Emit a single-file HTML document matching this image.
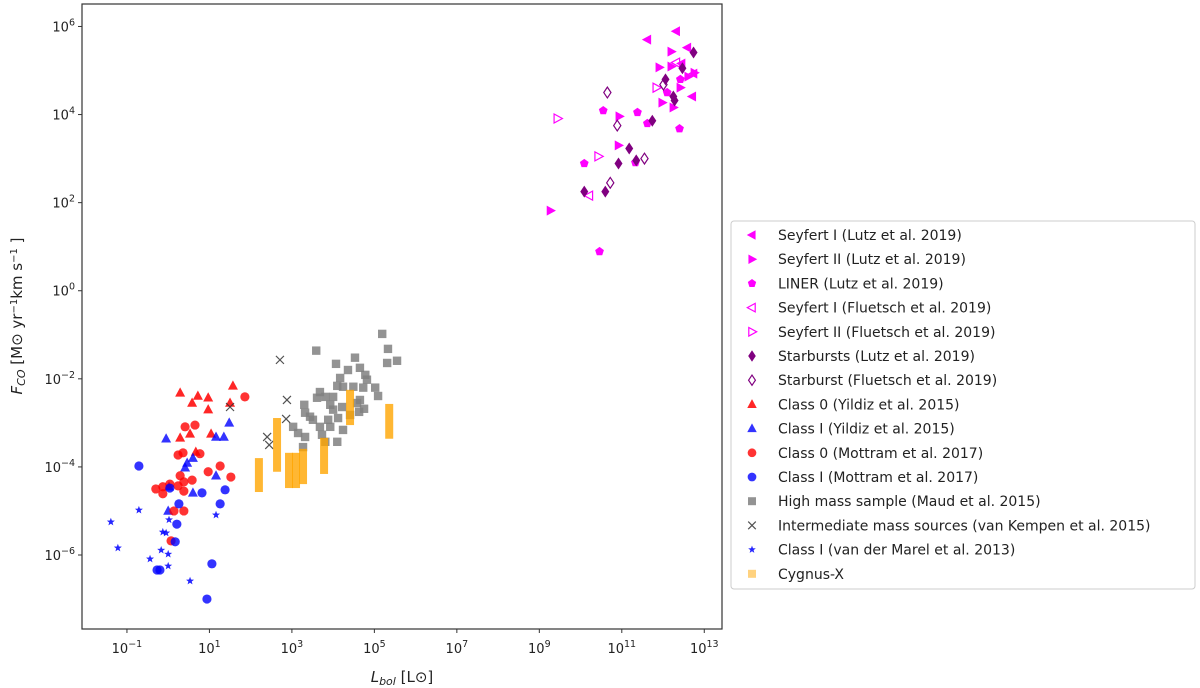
<!DOCTYPE html>
<html><head><meta charset="utf-8">
<style>
html,body{margin:0;padding:0;background:#fff;}
svg{display:block;font-family:"DejaVu Sans","Liberation Sans",sans-serif;}
</style></head>
<body>
<svg id="chart" width="1200" height="688" viewBox="0 0 1200 688"></svg>
<script>
// values are log10(L_bol) and log10(F_CO)
const seyfert1LutzX=[11.62,12.32,12.59,12.71,12.74,12.45];
const seyfert1LutzY=[5.7,5.89,5.52,4.41,4.93,5.16];
const seyfert2LutzX=[12.2,11.91,12.2,10.94,10.92,9.27,11.98,12.25,12.76,12.61,12.42];
const seyfert2LutzY=[5.43,5.07,5.09,3.96,3.3,1.82,4.27,4.16,4.95,4.86,4.61];
const linerX=[10.55,11.38,11.62,12.4,12.42,10.09,10.46,12.1,11.33];
const linerY=[4.09,4.05,3.8,3.68,4.8,2.89,0.89,4.5,2.91];
const seyfert1FlX=[12.32,10.21];
const seyfert1FlY=[5.18,2.16];
const seyfert2FlX=[9.44,10.43,11.84];
const seyfert2FlY=[3.91,3.05,4.61];
const starLutzX=[12.74,12.47,12.06,12.25,12.28,11.74,11.18,10.92,11.35,10.09,10.6];
const starLutzY=[5.41,5.05,4.8,4.41,4.32,3.86,3.23,2.89,2.96,2.25,2.25];
const starFlX=[10.65,10.89,11.55,10.72,12.01];
const starFlY=[4.5,3.75,3.0,2.45,4.68];
const class0YX=[0.29,0.72,0.97,0.58,0.97,1.57,1.5,0.29,0.53,1.04,0.67];
const class0YY=[-2.32,-2.39,-2.43,-2.55,-2.7,-2.16,-2.55,-3.34,-3.25,-3.25,-3.66];
const class1YX=[-0.05,1.48,1.16,1.35,0.6,0.46,0.41,1.16,0.6,0.02,0.0];
const class1YY=[-3.36,-3.0,-3.32,-3.32,-3.8,-3.91,-4.02,-4.2,-4.59,-4.45,-5.0];
const class0MX=[1.86,0.41,0.65,0.24,0.36,0.77,1.26,0.97,1.52,0.29,0.38,0.58,-0.3,-0.13,0.04,0.24,0.38,-0.13,0.14,0.38,0.07];
const class0MY=[-2.41,-3.09,-3.05,-3.73,-3.68,-3.7,-3.98,-4.11,-4.23,-4.2,-4.34,-4.3,-4.5,-4.45,-4.39,-4.43,-4.55,-4.61,-5.0,-5.0,-5.68];
const class1MX=[-0.71,0.04,0.82,1.38,0.26,1.26,0.21,0.17,1.06,-0.27,-0.2,0.94];
const class1MY=[-3.98,-4.48,-4.59,-4.52,-4.84,-4.84,-5.3,-5.7,-6.2,-6.34,-6.34,-7.0];
const highMassX=[5.19,5.33,5.31,5.55,3.59,4.07,4.53,4.65,4.36,4.78,4.82,4.17,4.1,3.68,3.61,3.81,4.0,4.24,4.49,4.73,5.02,5.09,4.65,3.93,4.22,4.58,4.75,4.63,3.3,3.32,3.51,3.44,3.88,4.12,4.41,3.68,3.93,4.24,3.03,3.15,3.32,3.73,3.81,4.1,3.27,4.0];
const highMassY=[-0.98,-1.32,-1.64,-1.59,-1.36,-1.66,-1.52,-1.75,-1.8,-1.91,-2.02,-1.98,-2.16,-2.3,-2.43,-2.41,-2.41,-2.18,-2.18,-2.2,-2.2,-2.39,-2.48,-2.59,-2.64,-2.55,-2.68,-2.75,-2.59,-2.77,-2.93,-2.86,-2.93,-2.89,-2.82,-3.09,-3.09,-3.16,-3.09,-3.23,-3.32,-3.27,-3.43,-3.43,-3.55,-2.7];
const interX=[2.71,2.88,2.86,2.4,2.45,1.5];
const interY=[-1.57,-2.48,-2.91,-3.32,-3.5,-2.64];
const marelX=[-0.71,-1.39,-1.22,0.02,-0.13,-0.05,1.16,-0.17,0.0,-0.44,0.0,0.53];
const marelY=[-4.98,-5.25,-5.84,-5.2,-5.48,-5.5,-5.09,-5.89,-5.98,-6.09,-6.25,-6.59];
const cygnusX=[2.2,2.64,2.93,3.1,3.27,3.78,4.41,5.36];
const cygnusTop=[-3.8,-2.89,-3.68,-3.68,-3.59,-3.34,-2.25,-2.57];
const cygnusBottom=[-4.57,-4.11,-4.48,-4.48,-4.39,-4.16,-3.05,-3.36];
const xTicks=[-1,1,3,5,7,9,11,13];
const yTicks=[-6,-4,-2,0,2,4,6];

const NS="http://www.w3.org/2000/svg";
const svg=document.getElementById('chart');
const L=82,R=722,T=4,B=629;
const xMin=-2.09,xMax=13.43,yMin=-7.68,yMax=6.51;
function sx(v){return L+(v-xMin)/(xMax-xMin)*(R-L);}
function sy(v){return B-(v-yMin)/(yMax-yMin)*(B-T);}
function mk(tag,attrs,parent){const e=document.createElementNS(NS,tag);for(const k in attrs)e.setAttribute(k,attrs[k]);(parent||svg).appendChild(e);return e;}

const plot=mk('g',{});



function marker(g,type,x,y,s,style){
  let e;
  const r=s;
  if(type==='circle'){e=mk('circle',{cx:x,cy:y,r:r},g);}
  else if(type==='square'){e=mk('rect',{x:x-r,y:y-r,width:2*r,height:2*r},g);}
  else if(type==='tri-up'){e=mk('polygon',{points:`${x},${y-r*1.1} ${x-r},${y+r*0.75} ${x+r},${y+r*0.75}`},g);}
  else if(type==='tri-left'){e=mk('polygon',{points:`${x-r*1.1},${y} ${x+r*0.75},${y-r} ${x+r*0.75},${y+r}`},g);}
  else if(type==='tri-right'){e=mk('polygon',{points:`${x+r*1.1},${y} ${x-r*0.75},${y-r} ${x-r*0.75},${y+r}`},g);}
  else if(type==='diamond'){e=mk('polygon',{points:`${x},${y-r*1.2} ${x+r*0.8},${y} ${x},${y+r*1.2} ${x-r*0.8},${y}`},g);}
  else if(type==='pentagon'){let p=[];for(let i=0;i<5;i++){const a=-Math.PI/2+i*2*Math.PI/5;p.push((x+r*Math.cos(a)).toFixed(2)+','+(y+r*Math.sin(a)).toFixed(2));}e=mk('polygon',{points:p.join(' ')},g);}
  else if(type==='star'){let p=[];for(let i=0;i<10;i++){const a=-Math.PI/2+i*Math.PI/5;const rr=i%2?r*0.42:r;p.push((x+rr*Math.cos(a)).toFixed(2)+','+(y+rr*Math.sin(a)).toFixed(2));}e=mk('polygon',{points:p.join(' ')},g);}
  else if(type==='x'){e=mk('path',{d:`M${x-r},${y-r}L${x+r},${y+r}M${x-r},${y+r}L${x+r},${y-r}`,fill:'none'},g);}
  else if(type==='bar'){e=mk('rect',{x:x-4,y:y-4,width:8,height:8},g);}
  for(const k in style)e.setAttribute(k,style[k]);
  return e;
}

const series=[
 {name:'seyfert-i-lutz',label:'Seyfert I (Lutz et al. 2019)',type:'tri-left',xs:seyfert1LutzX,ys:seyfert1LutzY,s:5,style:{fill:'#ff00ff'}},
 {name:'seyfert-ii-lutz',label:'Seyfert II (Lutz et al. 2019)',type:'tri-right',xs:seyfert2LutzX,ys:seyfert2LutzY,s:5,style:{fill:'#ff00ff'}},
 {name:'liner-lutz',label:'LINER (Lutz et al. 2019)',type:'pentagon',xs:linerX,ys:linerY,s:4.6,style:{fill:'#ff00ff'}},
 {name:'seyfert-i-fluetsch',label:'Seyfert I (Fluetsch et al. 2019)',type:'tri-left',xs:seyfert1FlX,ys:seyfert1FlY,s:4.5,style:{fill:'none',stroke:'#ff00ff','stroke-width':1.2}},
 {name:'seyfert-ii-fluetsch',label:'Seyfert II (Fluetsch et al. 2019)',type:'tri-right',xs:seyfert2FlX,ys:seyfert2FlY,s:4.5,style:{fill:'none',stroke:'#ff00ff','stroke-width':1.2}},
 {name:'starbursts-lutz',label:'Starbursts (Lutz et al. 2019)',type:'diamond',xs:starLutzX,ys:starLutzY,s:5,style:{fill:'#800080'}},
 {name:'starburst-fluetsch',label:'Starburst (Fluetsch et al. 2019)',type:'diamond',xs:starFlX,ys:starFlY,s:4.5,style:{fill:'none',stroke:'#800080','stroke-width':1.2}},
 {name:'class0-yildiz',label:'Class 0 (Yildiz et al. 2015)',type:'tri-up',xs:class0YX,ys:class0YY,s:5,style:{fill:'#ff0000','fill-opacity':0.85}},
 {name:'class1-yildiz',label:'Class I (Yildiz et al. 2015)',type:'tri-up',xs:class1YX,ys:class1YY,s:5,style:{fill:'#0000ff','fill-opacity':0.8}},
 {name:'class0-mottram',label:'Class 0 (Mottram et al. 2017)',type:'circle',xs:class0MX,ys:class0MY,s:4.6,style:{fill:'#ff0000','fill-opacity':0.8}},
 {name:'class1-mottram',label:'Class I (Mottram et al. 2017)',type:'circle',xs:class1MX,ys:class1MY,s:4.6,style:{fill:'#0000ff','fill-opacity':0.8}},
 {name:'high-mass-maud',label:'High mass sample (Maud et al. 2015)',type:'square',xs:highMassX,ys:highMassY,s:4.2,style:{fill:'#808080','fill-opacity':0.85}},
 {name:'intermediate-mass-kempen',label:'Intermediate mass sources (van Kempen et al. 2015)',type:'x',xs:interX,ys:interY,s:4,style:{stroke:'#333','stroke-width':1.2,'stroke-opacity':0.85}},
 {name:'class1-marel',label:'Class I (van der Marel et al. 2013)',type:'star',xs:marelX,ys:marelY,s:4.2,style:{fill:'#0000ff','fill-opacity':0.85}},
];

series.forEach(s=>{
  const g=mk('g',{},plot);
  
  
  for(let i=0;i<s.xs.length;i++){
    const m=marker(g,s.type,sx(s.xs[i]),sy(s.ys[i]),s.s,s.style);
    
    
  }
});
const cg=mk('g',{},plot);


for(let i=0;i<cygnusX.length;i++){
  const x=sx(cygnusX[i]),y1=sy(cygnusTop[i]),y2=sy(cygnusBottom[i]);
  const r=mk('rect',{x:x-4,y:y1,width:8,height:y2-y1,fill:'#ffa500','fill-opacity':0.8},cg);
  
  
}

const frame=mk('rect',{x:L,y:T,width:R-L,height:B-T,fill:'none',stroke:'#333','stroke-width':1.2});



const xa=mk('g',{});


xTicks.forEach(t=>{
  const x=sx(t);
  mk('line',{x1:x,x2:x,y1:B,y2:B+4,stroke:'#333'},xa);
  const tx=mk('text',{x:x,y:B+24,'font-size':13,'text-anchor':'middle',fill:'#222'},xa);
  
  
  tx.innerHTML='10<tspan dy="-6" font-size="9.5">'+(t<0?'\u2212'+(-t):t)+'</tspan>';
});
const ya=mk('g',{});


yTicks.forEach(t=>{
  const y=sy(t);
  mk('line',{x1:L-4,x2:L,y1:y,y2:y,stroke:'#333'},ya);
  const tx=mk('text',{x:L-7,y:y+5,'font-size':13,'text-anchor':'end',fill:'#222'},ya);
  
  
  tx.innerHTML='10<tspan dy="-6" font-size="9.5">'+(t<0?'\u2212'+(-t):t)+'</tspan>';
});
const xl=mk('text',{x:402,y:682,'font-size':15,'text-anchor':'middle',fill:'#222'});


xl.innerHTML='<tspan font-style="italic">L</tspan><tspan font-style="italic" font-size="11" dy="3">bol</tspan><tspan dy="-3"> [L\u2299]</tspan>';
const yl=mk('text',{x:0,y:0,'font-size':15,'text-anchor':'middle',fill:'#222',transform:'translate(22,316) rotate(-90)'});


yl.innerHTML='<tspan font-style="italic">F</tspan><tspan font-style="italic" font-size="11" dy="3">CO</tspan><tspan dy="-3"> [M\u2299 yr</tspan><tspan font-size="10" dy="-5">\u22121</tspan><tspan dy="5">km s</tspan><tspan font-size="10" dy="-5">\u22121</tspan><tspan dy="5"> ]</tspan>';

const lg=mk('g',{});


mk('rect',{x:731,y:221,width:464,height:368,rx:3,fill:'#fff',stroke:'#ccc'},lg);
const entries=series.concat([{name:'cygnus-x',label:'Cygnus-X',type:'bar',s:4,style:{fill:'#ffa500','fill-opacity':0.5}}]);
entries.forEach((s,i)=>{
  const y=235+i*24.2;
  const eg=mk('g',{},lg);
  
  
  const st=Object.assign({},s.style);
  marker(eg,s.type,752,y,s.type==='bar'?2.5:s.s*0.95,st);
  const t=mk('text',{x:778,y:y+5,'font-size':14,fill:'#222'},eg);
  t.textContent=s.label;
});
</script>
</body></html>
